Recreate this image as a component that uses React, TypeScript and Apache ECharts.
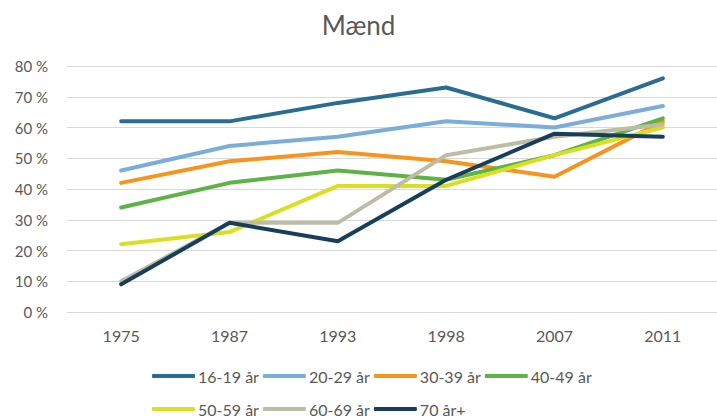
import React, { useEffect, useRef } from "react";
import * as echarts from "echarts";

const categories = ["1975", "1987", "1993", "1998", "2007", "2011"];
const seriesNames = ["16-19 år", "20-29 år", "30-39 år", "40-49 år", "50-59 år", "60-69 år", "70 år+"];
const s1619 = [62, 62, 68, 73, 63, 76];
const s2029 = [46, 54, 57, 62, 60, 67];
const s3039 = [42, 49, 52, 49, 44, 62];
const s4049 = [34, 42, 46, 43, 51, 63];
const s5059 = [22, 26, 41, 41, 51, 60];
const s6069 = [10, 29, 29, 51, 57, 61];
const s70 = [9, 29, 23, 43, 58, 57];
const seriesValues = [s1619, s2029, s3039, s4049, s5059, s6069, s70];
const colors = ["#2B6C92", "#7AADD9", "#F7941D", "#5DB346", "#D9E021", "#BDBDA5", "#173F5C"];

const FONT = "Lato, 'Open Sans', sans-serif";

export default function App() {
  const ref = useRef<HTMLDivElement>(null);
  useEffect(() => {
    if (!ref.current) return;
    const chart = echarts.init(ref.current, null, { renderer: "svg" });
    const legendCommon = {
      orient: "horizontal",
      icon: "roundRect",
      itemWidth: 43,
      itemHeight: 4,
      itemGap: 4,
      textStyle: { color: "#595959", fontSize: 16, fontFamily: FONT, padding: [0, 0, 0, -2] },
      padding: 0,
      left: 152,
    };
    chart.setOption({
      animation: false,
      color: colors,
      title: {
        text: "Mænd",
        left: "center",
        top: 7,
        textStyle: { color: "#595959", fontSize: 26, fontWeight: "normal", fontFamily: FONT },
      },
      grid: { left: 67, right: -10, top: 66, bottom: 107, containLabel: false },
      legend: [
        { ...legendCommon, top: 368, data: seriesNames.slice(0, 4) },
        { ...legendCommon, top: 401, data: seriesNames.slice(4) },
      ],
      xAxis: {
        type: "category",
        data: categories,
        boundaryGap: true,
        axisLine: { show: false },
        axisTick: { show: false },
        axisLabel: { color: "#595959", fontSize: 16, fontFamily: FONT, margin: 15 },
      },
      yAxis: {
        type: "value",
        min: 0,
        max: 80,
        interval: 10,
        axisLine: { show: false },
        axisTick: { show: false },
        splitLine: { lineStyle: { color: "#D9D9D9", width: 1 } },
        axisLabel: { color: "#595959", fontSize: 15, fontFamily: FONT, margin: 19, formatter: "{value} %" },
      },
      series: seriesNames.map((name, i) => ({
        name,
        type: "line",
        data: seriesValues[i],
        symbol: "none",
        lineStyle: { width: 4, color: colors[i], cap: "round" },
        itemStyle: { color: colors[i] },
      })),
    });
    return () => chart.dispose();
  }, []);
  return (
    <div
      ref={ref}
      style={{ position: "fixed", left: 0, top: 0, width: 717, height: 419, background: "#fff" }}
    />
  );
}
